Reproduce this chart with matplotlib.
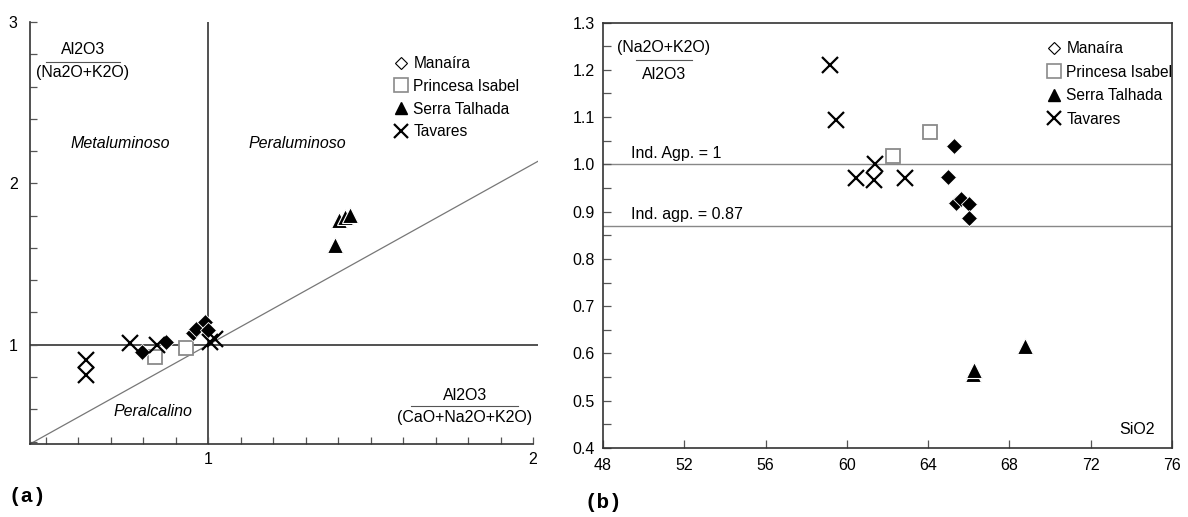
import matplotlib
matplotlib.use("Agg")
import matplotlib.pyplot as plt
from matplotlib.lines import Line2D
import numpy as np

plt.rcParams['font.family'] = ['Liberation Sans', 'DejaVu Sans']

# ---------------- data: panel (a)  A/CNK (x) vs A/NK (y) ----------------
a_man_x = [0.796, 0.871, 0.953, 0.963, 0.991, 1.001]
a_man_y = [0.955, 1.017, 1.070, 1.100, 1.140, 1.093]
a_pi_x = [0.837, 0.932]
a_pi_y = [0.924, 0.980]
a_st_x = [1.389, 1.404, 1.421, 1.437]
a_st_y = [1.621, 1.776, 1.793, 1.807]
a_tav_x = [0.625, 0.625, 0.760, 0.842, 1.005, 1.022]
a_tav_y = [0.907, 0.814, 1.010, 1.000, 1.020, 1.035]
a_diag_x = [0.452, 2.015]
a_diag_y = [0.385, 2.137]

# ---------------- data: panel (b)  SiO2 (x) vs agpaitic index (y) ----------------
b_man_x = [65.25, 64.97, 65.35, 65.63, 66.03, 66.03]
b_man_y = [1.038, 0.973, 0.918, 0.926, 0.916, 0.886]
b_pi_x = [64.08, 62.26]
b_pi_y = [1.068, 1.018]
b_st_x = [68.77, 66.22, 66.26]
b_st_y = [0.615, 0.556, 0.566]
b_tav_x = [59.18, 59.47, 61.38, 60.44, 61.33, 62.88]
b_tav_y = [1.210, 1.094, 1.000, 0.971, 0.966, 0.971]
b_hlines = [1.0, 0.87]
b_hline_labels = ["Ind. Agp. = 1", "Ind. agp. = 0.87"]
b_xticks = [48, 52, 56, 60, 64, 68, 72, 76]
b_yticks = [0.4, 0.5, 0.6, 0.7, 0.8, 0.9, 1.0, 1.1, 1.2, 1.3]

legend_labels = ["Manaíra", "Princesa Isabel", "Serra Talhada", "Tavares"]

W, H = 1188, 517
fig = plt.figure(figsize=(W / 100, H / 100), dpi=100)

def fr(x0, y0, x1, y1):
    return [x0 / W, 1 - y1 / H, (x1 - x0) / W, (y1 - y0) / H]

GRAY = '#8a8a8a'
SQ = dict(marker='s', ms=10.5, mfc='white', mec=GRAY, mew=1.3, ls='none')
DM = dict(marker='D', ms=8.5, mfc='black', mec='white', mew=0.6, ls='none')
TR = dict(marker='^', ms=11.5, mfc='black', mec='white', mew=0.8, ls='none')
XX = dict(marker='x', ms=11, mec='black', mew=1.6, ls='none')

def legend_handles():
    return [
        Line2D([], [], marker='D', ms=6.5, mfc='white', mec='black', mew=0.8, ls='none'),
        Line2D([], [], marker='s', ms=9.5, mfc='white', mec=GRAY, mew=1.2, ls='none'),
        Line2D([], [], marker='^', ms=8, mfc='black', mec='black', ls='none'),
        Line2D([], [], marker='x', ms=10, mec='black', mew=1.6, ls='none'),
    ]

FS = 11.5
LFS = 11.2

# ---------------- panel (a) ----------------
ax = fig.add_axes(fr(30, 22, 538, 444))
ax.set_xlim(0.452, 2.015)
ax.set_ylim(0.385, 3.0)
ax.spines['top'].set_visible(False)
ax.spines['right'].set_visible(False)
ax.spines['bottom'].set_bounds(0.452, 2.0)
for s in ['left', 'bottom']:
    ax.spines[s].set_color('#333333')
    ax.spines[s].set_linewidth(1.2)
ax.axvline(1.0, color='#333333', lw=1.2, zorder=1)
ax.axhline(1.0, color='#333333', lw=1.2, zorder=1)
ax.plot(a_diag_x, a_diag_y, color='#777777', lw=0.9, zorder=1)

ax.plot(a_pi_x, a_pi_y, **SQ, zorder=3)
ax.plot(a_man_x, a_man_y, **DM, zorder=3)
ax.plot(a_st_x, a_st_y, **TR, zorder=3)
ax.plot(a_tav_x, a_tav_y, **XX, zorder=4)

ax.set_xticks([1, 2])
ax.set_xticks(np.arange(0.5, 2.0001, 0.1), minor=True)
ax.set_yticks([1, 2, 3])
ax.set_yticks(np.arange(0.4, 3.0001, 0.2), minor=True)
ax.tick_params(which='both', direction='in', length=5, width=0.9, color='#555555',
               labelsize=FS, top=False, right=False)
ax.tick_params(axis='y', pad=9)
ax.tick_params(axis='x', pad=6)

ax.text(0.73, 2.25, "Metaluminoso", style='italic', fontsize=FS, ha='center', va='center')
ax.text(1.274, 2.25, "Peraluminoso", style='italic', fontsize=FS, ha='center', va='center')
ax.text(0.83, 0.584, "Peralcalino", style='italic', fontsize=FS, ha='center', va='center')

# fraction labels
ax.text(0.615, 2.83, "Al2O3", fontsize=FS, ha='center', va='center')
ax.plot([0.5, 0.73], [2.755, 2.755], color='#555555', lw=0.8)
ax.text(0.615, 2.685, "(Na2O+K2O)", fontsize=FS, ha='center', va='center')

ax.text(1.79, 0.685, "Al2O3", fontsize=FS, ha='center', va='center')
ax.plot([1.625, 1.955], [0.618, 0.618], color='#555555', lw=0.8)
ax.text(1.79, 0.55, "(CaO+Na2O+K2O)", fontsize=FS, ha='center', va='center')

ax.legend(legend_handles(), legend_labels, loc='upper left',
          bbox_to_anchor=((394 - 30) / 508, (444 - 56) / 422),
          frameon=False, fontsize=LFS, handlelength=0.9, handletextpad=0.35,
          labelspacing=0.5, borderpad=0, borderaxespad=0)

fig.text(8 / W, 1 - 497 / H, "(a)", fontsize=15, fontweight='bold',
         family=['Liberation Mono', 'DejaVu Sans Mono'], ha='left', va='center')

# ---------------- panel (b) ----------------
bx = fig.add_axes(fr(603, 22.5, 1172, 448))
bx.set_xlim(48, 76)
bx.set_ylim(0.4, 1.3)
for s in bx.spines.values():
    s.set_color('#333333')
    s.set_linewidth(1.2)
for yv in b_hlines:
    bx.axhline(yv, color='#888888', lw=1.0, zorder=1)
bx.text(49.4, 1.0 + 0.007, b_hline_labels[0], fontsize=FS, ha='left', va='bottom')
bx.text(49.4, 0.87 + 0.007, b_hline_labels[1], fontsize=FS, ha='left', va='bottom')

bx.plot(b_pi_x, b_pi_y, **SQ, zorder=3)
bx.plot(b_man_x, b_man_y, **DM, zorder=3)
bx.plot(b_st_x, b_st_y, **TR, zorder=3)
bx.plot(b_tav_x, b_tav_y, **XX, zorder=4)

bx.set_xticks(b_xticks)
bx.set_xticklabels([str(v) for v in b_xticks])
bx.set_yticks(b_yticks)
bx.set_yticklabels([f"{v:.1f}" for v in b_yticks])
bx.set_yticks(np.arange(0.45, 1.3, 0.1), minor=True)
bx.tick_params(which='both', direction='in', length=6, width=0.9, color='#555555',
               labelsize=FS, top=False, right=False)
bx.tick_params(axis='y', pad=6)
bx.tick_params(axis='x', pad=7)

bx.text(51.0, 1.247, "(Na2O+K2O)", fontsize=FS, ha='center', va='center')
bx.plot([49.6, 52.4], [1.221, 1.221], color='#555555', lw=0.8)
bx.text(51.0, 1.19, "Al2O3", fontsize=FS, ha='center', va='center')
bx.text(74.3, 0.44, "SiO2", fontsize=FS, ha='center', va='center')

bx.legend(legend_handles(), legend_labels, loc='upper left',
          bbox_to_anchor=((1047 - 603) / 569, (448 - 41) / 425.5),
          frameon=False, fontsize=LFS, handlelength=0.9, handletextpad=0.35,
          labelspacing=0.55, borderpad=0, borderaxespad=0)

fig.text(585 / W, 1 - 502 / H, "(b)", fontsize=15, fontweight='bold',
         family=['Liberation Mono', 'DejaVu Sans Mono'], ha='left', va='center')

fig.savefig("out.png", dpi=100)
